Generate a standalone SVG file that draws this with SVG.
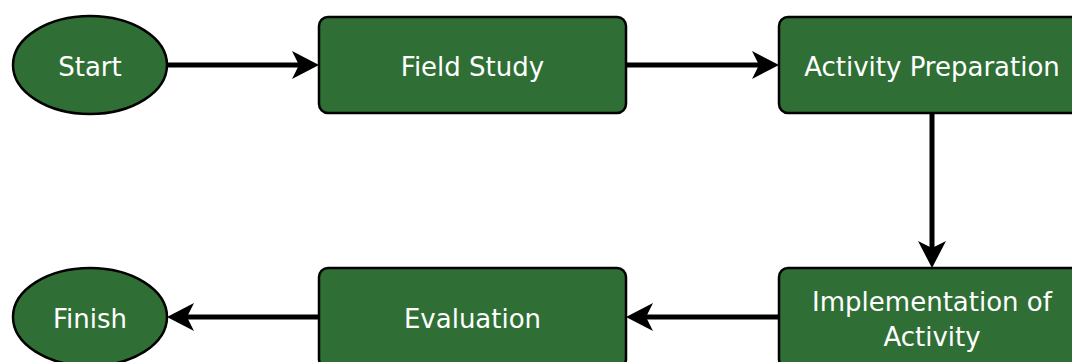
<svg xmlns="http://www.w3.org/2000/svg" width="1072" height="362" viewBox="0 0 1072 362">
<style>
.node{fill:#2f6f35;stroke:#000;stroke-width:2.5}
.lbl{fill:#fff;font-family:"DejaVu Sans",sans-serif;font-size:26px;text-anchor:middle}
.edge{fill:none;stroke:#000;stroke-width:5}
</style>
<defs>
<marker id="arr" markerUnits="userSpaceOnUse" markerWidth="28" markerHeight="28" refX="7" refY="14" orient="auto" viewBox="0 0 28 28">
<path d="M0,0 L27,14 L0,28 L7,14 Z" fill="#000"/>
</marker>
</defs>
<rect width="1072" height="362" fill="#fff"/>
<g id="connectors">
<line class="edge" x1="167" y1="65" x2="299" y2="65" marker-end="url(#arr)"/>
<line class="edge" x1="626" y1="65" x2="759" y2="65" marker-end="url(#arr)"/>
<line class="edge" x1="932" y1="113" x2="932" y2="248" marker-end="url(#arr)"/>
<line class="edge" x1="779" y1="317" x2="646" y2="317" marker-end="url(#arr)"/>
<line class="edge" x1="319" y1="317" x2="187" y2="317" marker-end="url(#arr)"/>
</g>
<g id="start">
<ellipse class="node" cx="90" cy="65" rx="77" ry="49"/>
<text class="lbl" x="90" y="76">Start</text>
</g>
<g id="field-study">
<rect class="node" x="319" y="17" width="307" height="96" rx="9"/>
<text class="lbl" x="472.5" y="76">Field Study</text>
</g>
<g id="activity-preparation">
<rect class="node" x="779" y="17" width="307" height="96" rx="9"/>
<text class="lbl" x="932" y="76">Activity Preparation</text>
</g>
<g id="implementation">
<rect class="node" x="779" y="268" width="307" height="100" rx="9"/>
<text class="lbl" x="932" y="311">Implementation of</text>
<text class="lbl" x="932" y="346">Activity</text>
</g>
<g id="evaluation">
<rect class="node" x="319" y="268" width="307" height="100" rx="9"/>
<text class="lbl" x="472.5" y="328">Evaluation</text>
</g>
<g id="finish">
<ellipse class="node" cx="90" cy="317" rx="77" ry="49"/>
<text class="lbl" x="90" y="328">Finish</text>
</g>
</svg>
